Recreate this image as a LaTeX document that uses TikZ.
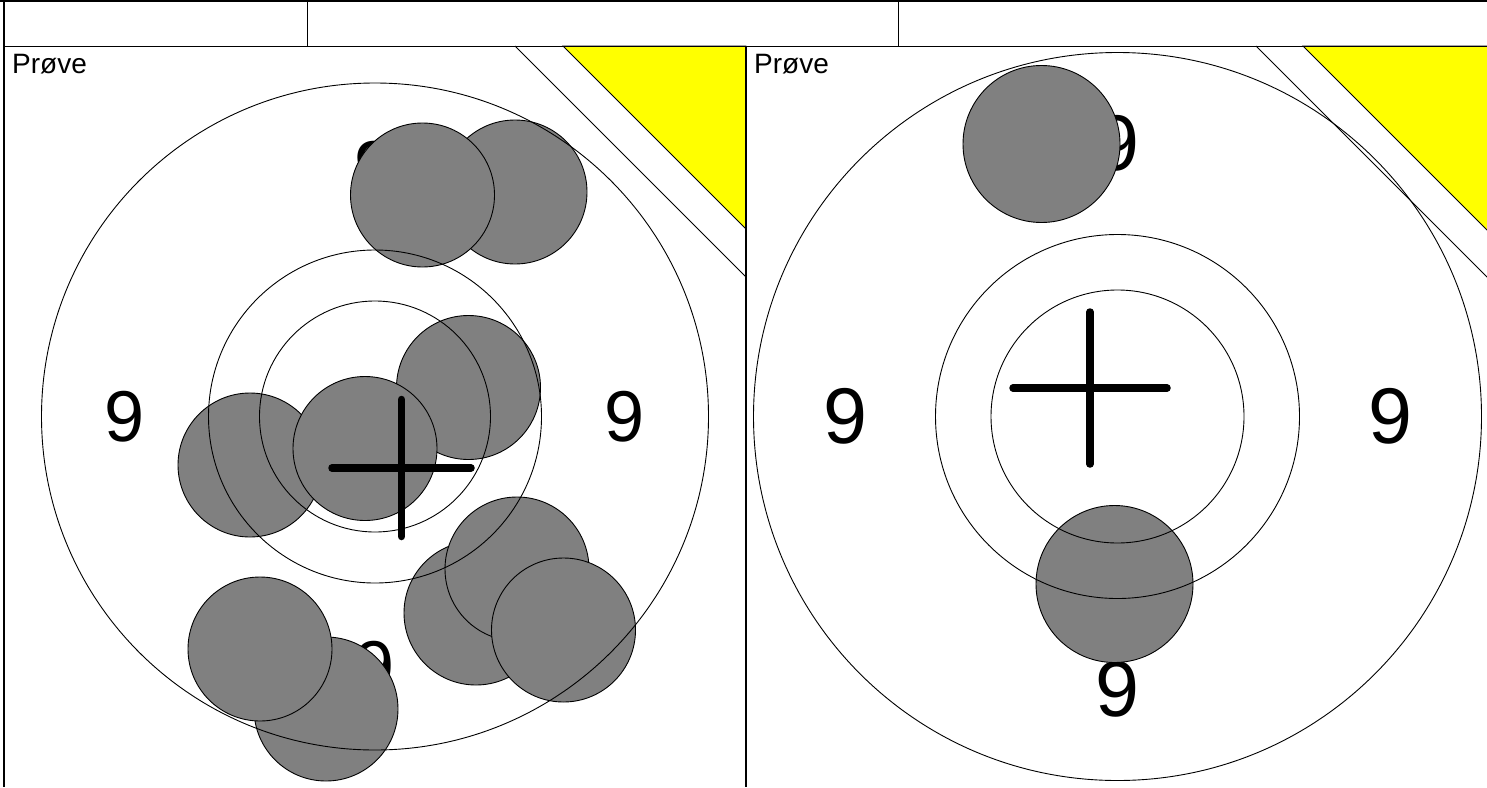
\documentclass[tikz,border=0pt]{standalone}
\usepackage{fontspec}
\setmainfont{Liberation Sans}
\definecolor{shotgray}{RGB}{128,128,128}
\definecolor{markyellow}{RGB}{255,255,0}
\begin{document}
\begin{tikzpicture}[x=1pt,y=-1pt,
  frame/.style={draw=black, line width=1.8pt},
  ring/.style={draw=black, line width=0.9pt},
  diag/.style={draw=black, line width=0.9pt},
  shotL/.style={circle, draw=black, line width=0.9pt, fill=shotgray, inner sep=0pt, minimum size=144pt},
  shotR/.style={circle, draw=black, line width=0.9pt, fill=shotgray, inner sep=0pt, minimum size=157pt},
  nineL/.style={inner sep=0pt, font=\fontsize{72}{72}\selectfont},
  nineR/.style={inner sep=0pt, font=\fontsize{79}{79}\selectfont},
  title/.style={inner sep=0pt, anchor=base west, font=\fontsize{28}{28}\selectfont},
  cross/.style={draw=black, line width=7.5pt, line cap=round}]
\useasboundingbox (0,0) rectangle (1487,787);
\clip (0,0) rectangle (1487,787);
\fill[white] (0,0) rectangle (1487,787);

% ---------- left panel ----------
\coordinate (cL) at (375,416.5);
\node[nineL] (nLw) at (125,416.5) {9};
\node[nineL] (nLe) at (625,416.5) {9};
\node[nineL] (nLn) at (375,166.5) {9};
\node[nineL] (nLs) at (375,666.5) {9};

\node[shotL] (sL2) at (515,192) {};
\node[shotL] (sL1) at (422.5,195) {};
\node[shotL] (sL3) at (468.5,387.5) {};
\node[shotL] (sL4) at (250,465) {};
\node[shotL] (sL5) at (365,448.5) {};
\node[shotL] (sL6) at (476,613) {};
\node[shotL] (sL7) at (517,569) {};
\node[shotL] (sL8) at (563.5,630) {};
\node[shotL] (sL10) at (326,709) {};
\node[shotL] (sL9) at (260,649) {};

\draw[ring] (cL) circle[radius=333.5pt];
\draw[ring] (cL) circle[radius=166.5pt];
\draw[ring] (cL) circle[radius=115.5pt];

\fill[markyellow, draw=black, line width=0.9pt] (563,46) -- (746,46) -- (746,229) -- cycle;
\draw[diag] (515,46) -- (746,277);

\coordinate (xL) at (401.5,468);
\draw[cross] ([yshift=-68.5pt]xL) -- ([yshift=68.5pt]xL);
\draw[cross] ([xshift=-69.5pt]xL) -- ([xshift=69.5pt]xL);

\node[title] (pL) at (12,73) {Prøve};

% ---------- right panel ----------
\coordinate (cR) at (1117.5,416.5);
\node[nineR] (nRw) at (845,416.5) {9};
\node[nineR] (nRe) at (1390,416.5) {9};
\node[nineR] (nRn) at (1117.5,143.5) {9};
\node[nineR] (nRs) at (1117.5,689.5) {9};

\node[shotR] (sR1) at (1041.5,144) {};
\node[shotR] (sR2) at (1114.5,584) {};

\draw[ring] (cR) circle[radius=364pt];
\draw[ring] (cR) circle[radius=182pt];
\draw[ring] (cR) circle[radius=126.5pt];

\fill[markyellow, draw=black, line width=0.9pt] (1303,46) -- (1489,46) -- (1489,232) -- cycle;
\draw[diag] (1256,46) -- (1489,279);

\coordinate (xR) at (1090,388);
\draw[cross] ([yshift=-76pt]xR) -- ([yshift=76pt]xR);
\draw[cross] ([xshift=-77pt]xR) -- ([xshift=77pt]xR);

\node[title] (pR) at (754,73) {Prøve};

% ---------- frame and header ----------
\draw[frame] (0,1) -- (1487,1);
\draw[frame] (4,0) -- (4,787);
\draw[frame] (4,46.5) -- (1487,46.5);
\draw[frame] (307.5,1) -- (307.5,46.5);
\draw[frame] (898.5,1) -- (898.5,46.5);
\draw[frame] (746,46.5) -- (746,787);
\end{tikzpicture}
\end{document}
